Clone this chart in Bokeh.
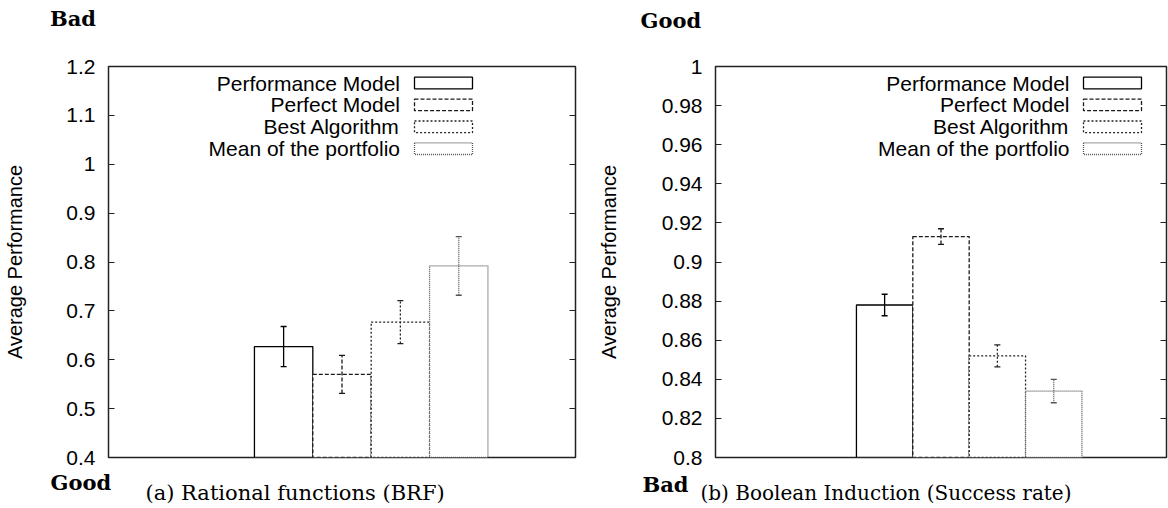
import numpy as np
from bokeh.plotting import figure
from bokeh.layouts import row, column
from bokeh.models import (ColumnDataSource, Whisker, TeeHead, Label, BoxAnnotation,
                          FixedTicker, LinearAxis, Range1d)
from bokeh.embed import file_html
from bokeh.resources import INLINE

# ---------------- data ----------------
series_names = ["Performance Model", "Perfect Model", "Best Algorithm", "Mean of the portfolio"]

brf_mean = [0.627, 0.570, 0.677, 0.792]
brf_err = [0.041, 0.039, 0.044, 0.060]
brf_ticks = [0.4, 0.5, 0.6, 0.7, 0.8, 0.9, 1.0, 1.1, 1.2]
brf_tick_labels = ["0.4", "0.5", "0.6", "0.7", "0.8", "0.9", "1", "1.1", "1.2"]

bool_mean = [0.878, 0.913, 0.852, 0.834]
bool_err = [0.0055, 0.004, 0.0056, 0.006]
bool_ticks = [0.80, 0.82, 0.84, 0.86, 0.88, 0.90, 0.92, 0.94, 0.96, 0.98, 1.0]
bool_tick_labels = ["0.8", "0.82", "0.84", "0.86", "0.88", "0.9", "0.92", "0.94", "0.96", "0.98", "1"]

y_label = "Average Performance"
caption_a = "(a) Rational functions (BRF)"
caption_b = "(b) Boolean Induction (Success rate)"
top_word_a, bottom_word_a = "Bad", "Good"
top_word_b, bottom_word_b = "Good", "Bad"

# ---------------- styles ----------------
SANS = "Liberation Sans"
SERIF = "DejaVu Serif"
dashes = ["solid", "4 2", "2 2", "1 1"]
colors = ["#000000", "#1a1a1a", "#222222", "#555555"]

TOP_H, MAIN_H, BOT_H = 44, 425, 39


def make_panel(width, b_left, b_right, yr, ticks, tick_labels, means, errs,
               legend_text_x, legend_box_x, label_std):
    p = figure(width=width, height=MAIN_H, output_backend="svg", toolbar_location=None,
               title=None, x_range=Range1d(0, 8), y_range=Range1d(*yr),
               x_axis_location=None, min_border_left=b_left, min_border_right=b_right,
               min_border_top=22, min_border_bottom=12)
    p.grid.visible = False
    p.outline_line_color = "#222222"
    p.outline_line_width = 1.5
    p.background_fill_color = "white"
    p.border_fill_color = "white"

    labels_map = {t: l for t, l in zip(ticks, tick_labels)}
    ya = p.yaxis[0]
    ya.ticker = FixedTicker(ticks=ticks)
    ya.major_label_overrides = labels_map
    ya.major_tick_in = 6
    ya.major_tick_out = 0
    ya.minor_tick_in = 0
    ya.minor_tick_out = 0
    ya.axis_line_color = None
    ya.major_tick_line_color = "#222222"
    ya.major_label_standoff = 13
    ya.major_label_text_font = SANS
    ya.major_label_text_font_size = "21px"
    ya.major_label_text_color = "black"
    ya.axis_label = y_label
    ya.axis_label_text_font = SANS
    ya.axis_label_text_font_size = "20px"
    ya.axis_label_text_font_style = "normal"
    ya.axis_label_text_color = "black"
    ya.axis_label_standoff = label_std

    ra = LinearAxis(ticker=FixedTicker(ticks=ticks), major_tick_in=6, major_tick_out=0,
                    minor_tick_in=0, minor_tick_out=0, axis_line_color=None,
                    major_tick_line_color="#222222",
                    major_label_text_font_size="1px", major_label_text_color=None,
                    major_label_standoff=0)
    p.add_layout(ra, "right")

    xs = np.arange(len(means)) + 3
    for i, (name, m, e) in enumerate(zip(series_names, means, errs)):
        src = ColumnDataSource(dict(x=[xs[i]], top=[m], upper=[m + e], lower=[m - e]))
        p.vbar(x="x", top="top", bottom=yr[0], width=1.0, source=src,
               fill_color="white", line_color=colors[i], line_dash=dashes[i], line_width=1.3)
        w = Whisker(source=src, base="x", upper="upper", lower="lower",
                    line_color=colors[i], line_dash=dashes[i], line_width=1.3,
                    upper_head=TeeHead(size=6, line_color=colors[i], line_width=1.3),
                    lower_head=TeeHead(size=6, line_color=colors[i], line_width=1.3),
                    level="annotation")
        p.add_layout(w)

        yc = 374.5 - 21.9 * i  # legend row centre, relative to frame bottom
        p.add_layout(Label(x=legend_text_x, y=yc, x_units="screen", y_units="screen",
                           text=name, text_align="right", text_baseline="middle",
                           text_font=SANS, text_font_size="21px", text_color="black"))
        p.add_layout(BoxAnnotation(left=legend_box_x, right=legend_box_x + 58,
                                   bottom=yc - 5.8, top=yc + 5.8,
                                   left_units="screen", right_units="screen",
                                   bottom_units="screen", top_units="screen",
                                   fill_color="white", fill_alpha=0.0,
                                   line_color=colors[i], line_dash=dashes[i], line_width=1.3,
                                   line_alpha=1.0))
    return p


def make_strip(height, items):
    s = figure(width=1168, height=height, output_backend="svg", toolbar_location=None,
               title=None, x_range=Range1d(0, 1168), y_range=Range1d(0, height),
               x_axis_location=None, y_axis_location=None,
               min_border_left=0, min_border_right=0, min_border_top=0, min_border_bottom=0)
    s.grid.visible = False
    s.outline_line_color = None
    s.background_fill_color = "white"
    s.border_fill_color = "white"
    for text, x, y, size, style in items:
        s.add_layout(Label(x=x, y=y, x_units="screen", y_units="screen", text=text,
                           text_baseline="middle", text_font=SERIF, text_font_size=size,
                           text_font_style=style, text_color="black"))
    return s


p1 = make_panel(594, 108, 19, (0.4, 1.2), brf_ticks, brf_tick_labels, brf_mean, brf_err,
                291.5, 306, 37)
p2 = make_panel(574, 119, 2, (0.8, 1.0), bool_ticks, bool_tick_labels, bool_mean, bool_err,
                354, 368, 39)

top = make_strip(TOP_H, [(top_word_a, 49.5, 26.3, "21px", "bold"),
                         (top_word_b, 640, 24.5, "21px", "bold")])
bottom = make_strip(BOT_H, [(bottom_word_a, 50, 26.3, "21px", "bold"),
                            (caption_a, 145, 16, "21px", "normal"),
                            (bottom_word_b, 642, 24.3, "21px", "bold"),
                            (caption_b, 700, 15.5, "20px", "normal")])

layout = column(top, row(p1, p2), bottom)
open("out.html", "w").write(file_html(layout, INLINE))
